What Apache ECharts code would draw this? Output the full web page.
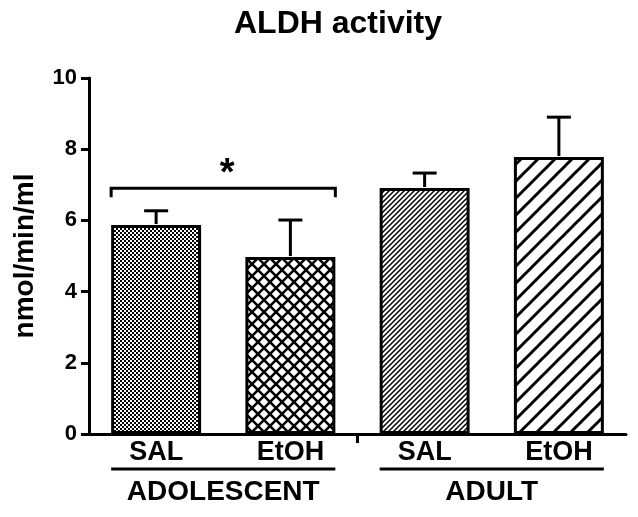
<!DOCTYPE html>
<html><head><meta charset="utf-8">
<script src="https://cdn.jsdelivr.net/npm/echarts@6/dist/echarts.min.js"></script>
<style>html,body{margin:0;padding:0;background:#fff}#c{width:638px;height:517px}</style>
</head><body><div id="c"></div>
<script>
const categories = ['SAL', 'EtOH', 'SAL', 'EtOH'];
const groups = ['ADOLESCENT', 'ADULT'];
const groupSpans = [[0, 1, 0], [2, 3, 1]];
const means = [5.87, 4.97, 6.91, 7.78];
const errTops = [6.27, 6.01, 7.33, 8.90];
const yTicks = [0, 2, 4, 6, 8, 10];
const sigBracket = [[0, 1, 6.9]];

function mk(w, h, draw) {
  const c = document.createElement('canvas');
  c.width = w; c.height = h;
  const g = c.getContext('2d');
  g.fillStyle = '#fff'; g.fillRect(0, 0, w, h);
  g.fillStyle = '#000'; g.strokeStyle = '#000';
  draw(g, w, h);
  return c;
}
function diag(g, s, lw, both) {
  g.lineWidth = lw;
  for (let k = -1; k <= 1; k++) {
    g.beginPath(); g.moveTo(k * s - 1, s + 1); g.lineTo(k * s + s + 1, -1); g.stroke();
    if (both) { g.beginPath(); g.moveTo(k * s - 1, -1); g.lineTo(k * s + s + 1, s + 1); g.stroke(); }
  }
}
const pats = [
  mk(4, 4, (g) => { g.fillRect(0, 0, 2, 2); g.fillRect(2, 2, 2, 2); }),
  mk(12, 12, (g) => diag(g, 12, 2.6, true)),
  mk(5, 5, (g) => diag(g, 5, 1.5, false)),
  mk(17, 17, (g) => diag(g, 17, 3, false))
];

const chart = echarts.init(document.getElementById('c'));
const F = 'Liberation Sans, Arial, sans-serif';
const BARW = 0.67;
chart.setOption({
  animation: false,
  title: { text: 'ALDH activity', left: 229, top: 3,
    textStyle: { fontFamily: F, fontWeight: 'bold', fontSize: 32, color: '#000' } },
  grid: { left: 89, right: 12, top: 78, bottom: 83 },
  xAxis: {
    type: 'category', data: categories,
    axisLine: { lineStyle: { color: '#000', width: 3 } },
    axisTick: { show: false },
    axisLabel: { color: '#000', fontFamily: F, fontWeight: 'bold', fontSize: 27, margin: 5, interval: 0 }
  },
  yAxis: {
    type: 'value', min: 0, max: 10, interval: 2,
    name: 'nmol/min/ml', nameLocation: 'middle', nameGap: 50, nameRotate: 90,
    nameTextStyle: { color: '#000', fontFamily: F, fontWeight: 'bold', fontSize: 28 },
    axisLine: { show: true, lineStyle: { color: '#000', width: 3 } },
    axisTick: { show: true, length: 8, lineStyle: { color: '#000', width: 3 } },
    axisLabel: { color: '#000', fontFamily: F, fontWeight: 'bold', fontSize: 22, margin: 12,
      formatter: (v) => yTicks.includes(v) ? String(v) : '' },
    splitLine: { show: false }
  },
  series: [
    {
      type: 'bar', barWidth: (BARW * 100) + '%', z: 2,
      data: means.map((v, i) => ({ value: v, itemStyle: {
        color: { image: pats[i], repeat: 'repeat' }, borderColor: '#000', borderWidth: 3 } }))
    },
    {
      type: 'custom', z: 3, clip: false,
      data: means.map((m, i) => [i, m, errTops[i]]),
      renderItem: (params, api) => {
        const b = api.coord([api.value(0), api.value(1)]);
        const t = api.coord([api.value(0), api.value(2)]);
        const s = { stroke: '#000', lineWidth: 3 };
        return { type: 'group', children: [
          { type: 'line', shape: { x1: b[0], y1: b[1] - 1, x2: t[0], y2: t[1] }, style: s },
          { type: 'line', shape: { x1: t[0] - 12, y1: t[1], x2: t[0] + 12, y2: t[1] }, style: s }
        ] };
      }
    },
    {
      type: 'custom', z: 3, clip: false,
      data: sigBracket,
      renderItem: (params, api) => {
        const bw = api.size([1, 0])[0] * BARW / 2;
        const a = api.coord([api.value(0), api.value(2)]);
        const b = api.coord([api.value(1), api.value(2)]);
        const x1 = a[0] - bw, x2 = b[0] + bw, y = a[1];
        return { type: 'group', children: [
          { type: 'polyline', shape: { points: [[x1, y + 9], [x1, y], [x2, y], [x2, y + 9]] },
            style: { stroke: '#000', lineWidth: 3, fill: null } },
          { type: 'text', style: { text: '*', x: (x1 + x2) / 2 + 4, y: y + 5, align: 'center', verticalAlign: 'bottom',
            font: 'bold 38px ' + F, fill: '#000' } }
        ] };
      }
    },
    {
      type: 'custom', z: 3, clip: false,
      data: groupSpans,
      renderItem: (params, api) => {
        const band = api.size([1, 0])[0];
        const bw = band * BARW / 2;
        const a = api.coord([api.value(0), 0]);
        const b = api.coord([api.value(1), 0]);
        const x1 = a[0] - bw, x2 = b[0] + bw, y = a[1] + 35;
        const children = [
          { type: 'line', shape: { x1: x1, y1: y, x2: x2, y2: y }, style: { stroke: '#000', lineWidth: 3 } },
          { type: 'text', style: { text: groups[api.value(2)], x: (x1 + x2) / 2, y: y + 9, align: 'center', verticalAlign: 'top',
            font: 'bold 28px ' + F, fill: '#000' } }
        ];
        if (params.dataIndex > 0) {
          const tx = a[0] - band / 2;
          children.push({ type: 'line', shape: { x1: tx, y1: a[1], x2: tx, y2: a[1] + 9 }, style: { stroke: '#000', lineWidth: 3 } });
        }
        return { type: 'group', children: children };
      }
    }
  ]
});
</script></body></html>
